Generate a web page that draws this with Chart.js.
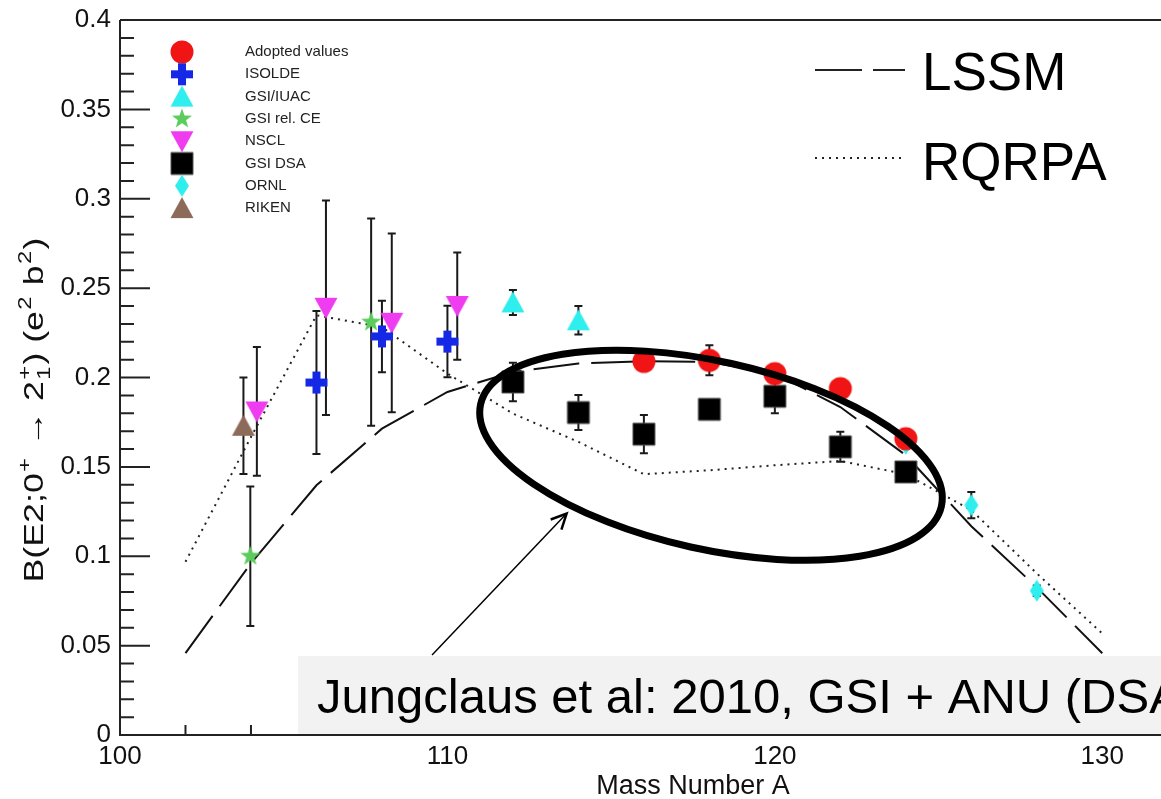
<!DOCTYPE html>
<html>
<head>
<meta charset="utf-8">
<script src="https://cdn.jsdelivr.net/npm/chart.js@4.4.1/dist/chart.umd.min.js"></script>
<style>
  html, body { margin: 0; padding: 0; background: #fff; overflow: hidden; }
  canvas { display: block; }
</style>
</head>
<body>
<canvas id="chart" width="1278" height="799"></canvas>
<script>
// --- données ---
const adoptedA = [116, 118, 120, 122, 124];
const adoptedB = [0.209, 0.2096, 0.2022, 0.1938, 0.1658];
const adoptedErr = [0.004, 0.0084, 0.004, 0.004, 0.004];

const isoldeA = [106, 108, 110];
const isoldeB = [0.1972, 0.2230, 0.2201];
const isoldeErr = [0.040, 0.020, 0.020];

const iuacA = [112, 114];
const iuacB = [0.242, 0.232];
const iuacErr = [0.007, 0.008];

const relceA = [103.98, 107.67];
const relceB = [0.100, 0.231];
const relceErr = [0.039, 0.058];

const nsclA = [104.18, 106.29, 108.3, 110.3];
const nsclB = [0.181, 0.239, 0.2306, 0.240];
const nsclErr = [0.036, 0.060, 0.050, 0.030];

const dsaA = [112, 114, 116, 118, 120, 122, 124];
const dsaB = [0.1975, 0.1804, 0.1683, 0.1822, 0.1895, 0.1612, 0.1472];
const dsaErr = [0.0108, 0.0098, 0.0107, 0.004, 0.0095, 0.0084, 0.004];

const ornlA = [124, 126, 128];
const ornlB = [0.163, 0.1286, 0.0807];
const ornlErr = [0.003, 0.0073, 0.003];

const rikenA = [103.77];
const rikenB = [0.173];
const rikenErr = [0.027];

const theoryA = [102, 104, 106, 108, 110, 112, 114, 116, 118, 120, 122, 124, 126, 128, 130];
const lssmB = [0.0458, 0.0961, 0.1397, 0.1714, 0.1919, 0.2031, 0.2078, 0.2091, 0.2087, 0.2022, 0.1835, 0.1565, 0.1168, 0.0826, 0.0457];
const rqrpaB = [0.0969, 0.1667, 0.2348, 0.2282, 0.2022, 0.1798, 0.1640, 0.1459, 0.1481, 0.1509, 0.1533, 0.1459, 0.1258, 0.0904, 0.0568];

const xTickLabels = [100, 110, 120, 130];
const yTickLabels = [0, 0.05, 0.1, 0.15, 0.2, 0.25, 0.3, 0.35, 0.4];

const FONT = "'Liberation Sans', Arial, Helvetica, sans-serif";
Chart.defaults.font.family = FONT;

// --- marqueurs dessinés dans de petits canvas ---
function makeMarker(kind, color) {
  const s = 28;
  const c = document.createElement('canvas');
  c.width = s; c.height = s;
  const g = c.getContext('2d');
  g.fillStyle = color;
  g.translate(s / 2, s / 2);
  g.beginPath();
  if (kind === 'circle') {
    g.arc(0, 0, 11.5, 0, Math.PI * 2);
  } else if (kind === 'cross') {
    g.rect(-11, -4, 22, 8);
    g.rect(-4, -11, 8, 22);
  } else if (kind === 'triUp') {
    g.moveTo(0, -11); g.lineTo(11.5, 10); g.lineTo(-11.5, 10); g.closePath();
  } else if (kind === 'triDown') {
    g.moveTo(0, 11); g.lineTo(11.5, -10); g.lineTo(-11.5, -10); g.closePath();
  } else if (kind === 'square') {
    g.rect(-11, -11, 22, 22);
  } else if (kind === 'diamond') {
    g.moveTo(0, -11); g.lineTo(7, 0); g.lineTo(0, 11); g.lineTo(-7, 0); g.closePath();
  } else if (kind === 'star') {
    for (let i = 0; i < 10; i++) {
      const r = i % 2 ? 4.3 : 10.5;
      const a = -Math.PI / 2 + i * Math.PI / 5;
      if (i === 0) g.moveTo(r * Math.cos(a), r * Math.sin(a));
      else g.lineTo(r * Math.cos(a), r * Math.sin(a));
    }
    g.closePath();
  }
  g.fill();
  if (kind === 'square') {
    g.strokeStyle = '#555'; g.lineWidth = 1; g.stroke();
  }
  return c;
}

const series = [
  { label: 'Adopted values', A: adoptedA, B: adoptedB, err: adoptedErr, marker: makeMarker('circle', '#f01414') },
  { label: 'ISOLDE', A: isoldeA, B: isoldeB, err: isoldeErr, marker: makeMarker('cross', '#1428e6') },
  { label: 'GSI/IUAC', A: iuacA, B: iuacB, err: iuacErr, marker: makeMarker('triUp', '#2eeeee') },
  { label: 'GSI rel. CE', A: relceA, B: relceB, err: relceErr, marker: makeMarker('star', '#5ccc5c') },
  { label: 'NSCL', A: nsclA, B: nsclB, err: nsclErr, marker: makeMarker('triDown', '#f03cf0') },
  { label: 'GSI DSA', A: dsaA, B: dsaB, err: dsaErr, marker: makeMarker('square', '#000000') },
  { label: 'ORNL', A: ornlA, B: ornlB, err: ornlErr, marker: makeMarker('diamond', '#2eeeee') },
  { label: 'RIKEN', A: rikenA, B: rikenB, err: rikenErr, marker: makeMarker('triUp', '#8c6b5b') }
];

const toXY = (A, B) => A.map((a, i) => ({ x: a, y: B[i] }));

const datasets = [
  {
    label: 'LSSM', data: toXY(theoryA, lssmB), showLine: true, pointRadius: 0,
    borderColor: '#111', borderWidth: 2, borderDash: [46, 12], fill: false, tension: 0, order: 2
  },
  {
    label: 'RQRPA', data: toXY(theoryA, rqrpaB), showLine: true, pointRadius: 0,
    borderColor: '#222', borderWidth: 2, borderDash: [2, 5], fill: false, tension: 0, order: 2
  }
].concat(series.map(s => ({
  label: s.label, data: toXY(s.A, s.B), errors: s.err, showLine: false,
  pointStyle: s.marker, pointRadius: 11, pointHoverRadius: 11, order: 1
})));

// --- barres d'erreur (sous les marqueurs) ---
const errorBars = {
  id: 'errorBars',
  beforeDatasetsDraw(chart) {
    const { ctx, scales: { x, y } } = chart;
    ctx.save();
    ctx.strokeStyle = '#1a1a1a';
    ctx.lineWidth = 2;
    chart.data.datasets.forEach(ds => {
      if (!ds.errors) return;
      ds.data.forEach((p, i) => {
        const e = ds.errors[i];
        const px = x.getPixelForValue(p.x);
        const top = y.getPixelForValue(p.y + e);
        const bot = y.getPixelForValue(p.y - e);
        ctx.beginPath();
        ctx.moveTo(px, top); ctx.lineTo(px, bot);
        ctx.moveTo(px - 4, top); ctx.lineTo(px + 4, top);
        ctx.moveTo(px - 4, bot); ctx.lineTo(px + 4, bot);
        ctx.stroke();
      });
    });
    ctx.restore();
  }
};

// --- cadre, graduations, annotations, légendes ---
const overlay = {
  id: 'overlay',
  afterDatasetsDraw(chart) {
    const { ctx, chartArea: area, scales: { x, y } } = chart;
    ctx.save();

    // ellipse + flèche
    ctx.strokeStyle = '#000';
    ctx.lineWidth = 7;
    ctx.beginPath();
    ctx.ellipse(x.getPixelForValue(118.05), y.getPixelForValue(0.1565), 236, 94, 12.5 * Math.PI / 180, 0, Math.PI * 2);
    ctx.stroke();

    const ax0 = x.getPixelForValue(109.53), ay0 = y.getPixelForValue(0.0447);
    const ax1 = x.getPixelForValue(113.64), ay1 = y.getPixelForValue(0.1239);
    ctx.lineWidth = 1.5;
    ctx.beginPath(); ctx.moveTo(ax0, ay0); ctx.lineTo(ax1, ay1); ctx.stroke();
    const ang = Math.atan2(ay1 - ay0, ax1 - ax0);
    ctx.lineWidth = 2.5;
    ctx.beginPath();
    ctx.moveTo(ax1 - 17 * Math.cos(ang - 0.45), ay1 - 17 * Math.sin(ang - 0.45));
    ctx.lineTo(ax1, ay1);
    ctx.lineTo(ax1 - 17 * Math.cos(ang + 0.45), ay1 - 17 * Math.sin(ang + 0.45));
    ctx.stroke();

    // graduations (vers l'intérieur)
    ctx.strokeStyle = '#222';
    ctx.lineWidth = 2;
    ctx.beginPath();
    for (let k = 0; k <= 40; k++) {
      const py = y.getPixelForValue(k / 100);
      ctx.moveTo(area.left, py);
      ctx.lineTo(area.left + (k % 5 === 0 ? 30 : 14), py);
    }
    for (let a = 100; a <= 134; a += 2) {
      const px = x.getPixelForValue(a);
      ctx.moveTo(px, area.bottom);
      ctx.lineTo(px, area.bottom - (a % 10 === 0 ? 20 : 10));
    }
    ctx.stroke();

    // encadré de référence
    const bx = x.getPixelForValue(105.44), by = y.getPixelForValue(0.0442);
    ctx.fillStyle = '#f2f2f2';
    ctx.fillRect(bx, by, area.right - bx, area.bottom - by - 1);
    ctx.fillStyle = '#000';
    ctx.font = '49px ' + FONT;
    ctx.textBaseline = 'alphabetic';
    ctx.textAlign = 'left';
    ctx.fillText('Jungclaus et al: 2010, GSI + ANU (DSA)', x.getPixelForValue(106.02), y.getPixelForValue(0.0123));

    // axes
    ctx.strokeStyle = '#222';
    ctx.lineWidth = 2;
    ctx.beginPath();
    ctx.moveTo(area.left, area.top); ctx.lineTo(area.right, area.top);
    ctx.moveTo(area.left, area.top); ctx.lineTo(area.left, area.bottom);
    ctx.moveTo(area.left - 1, area.bottom); ctx.lineTo(area.right, area.bottom);
    ctx.stroke();
    ctx.restore();
  },
  afterDraw(chart) {
    const ctx = chart.ctx;
    ctx.save();

    // petite légende des mesures
    ctx.font = '15px ' + FONT;
    ctx.fillStyle = '#222';
    ctx.textBaseline = 'middle';
    ctx.textAlign = 'left';
    series.forEach((s, i) => {
      const ly = 52 + i * 22.3;
      ctx.drawImage(s.marker, 182 - s.marker.width / 2, ly - s.marker.height / 2);
      ctx.fillText(s.label, 245, ly);
    });

    // légende des calculs
    ctx.strokeStyle = '#222';
    ctx.lineWidth = 2;
    ctx.setLineDash([47, 11]);
    ctx.beginPath(); ctx.moveTo(815, 70); ctx.lineTo(905, 70); ctx.stroke();
    ctx.setLineDash([2, 5]);
    ctx.beginPath(); ctx.moveTo(815, 158); ctx.lineTo(903, 158); ctx.stroke();
    ctx.setLineDash([]);
    ctx.fillStyle = '#000';
    ctx.font = '53px ' + FONT;
    ctx.textBaseline = 'alphabetic';
    ctx.fillText('LSSM', 922, 90);
    ctx.fillText('RQRPA', 922, 180);

    // titre de l'axe y, avec exposants/indices
    const parts = [
      ['B(E2;0', 0], ['+', 1], [' \u2192 2', 0], ['+', 3], [') (e', 0], ['2', 1], [' b', 0], ['2', 1], [')', 0]
    ];
    const big = '27px ' + FONT, small = '18px ' + FONT;
    let total = 0;
    parts.forEach(p => { ctx.font = p[1] ? small : big; total += ctx.measureText(p[0]).width + (p[1] ? 2 : 0); });
    const target = 345;
    ctx.translate(36, 410);
    ctx.rotate(-Math.PI / 2);
    ctx.scale(target / total, 1);
    let cx = -total / 2;
    ctx.fillStyle = '#111';
    ctx.textBaseline = 'middle';
    parts.forEach(p => {
      if (p[1] === 0) {
        ctx.font = big; ctx.fillText(p[0], cx, 0);
        cx += ctx.measureText(p[0]).width;
      } else {
        ctx.font = small;
        ctx.fillText(p[0], cx + 1, -10);
        if (p[1] === 3) ctx.fillText('1', cx + 1, 9);
        cx += ctx.measureText(p[0]).width + 2;
      }
    });
    ctx.restore();
  }
};

new Chart(document.getElementById('chart'), {
  type: 'scatter',
  data: { datasets: datasets },
  options: {
    responsive: false,
    animation: false,
    layout: { padding: { top: 20, left: 0, right: 0, bottom: 0 } },
    plugins: { legend: { display: false }, tooltip: { enabled: false } },
    scales: {
      x: {
        type: 'linear', min: 100, max: 135,
        grid: { display: false, drawTicks: false },
        border: { display: false },
        afterBuildTicks: s => { s.ticks = xTickLabels.map(v => ({ value: v })); },
        ticks: { autoSkip: false, maxRotation: 0, padding: 6, color: '#111', font: { size: 26 },
                 callback: v => String(v) },
        title: { display: true, text: 'Mass Number A', color: '#111', font: { size: 27, lineHeight: 0.9 }, padding: { top: 0, bottom: 0 } },
        afterFit: s => { s.height = 64; }
      },
      y: {
        min: 0, max: 0.4,
        grid: { display: false, drawTicks: false },
        border: { display: false },
        afterBuildTicks: s => { s.ticks = yTickLabels.map(v => ({ value: v })); },
        ticks: { autoSkip: false, padding: 9, color: '#111', font: { size: 26, lineHeight: 0.8 },
                 callback: v => String(Math.round(v * 100) / 100) },
        afterFit: s => { s.width = 120; }
      }
    }
  },
  plugins: [errorBars, overlay]
});
</script>
</body>
</html>
